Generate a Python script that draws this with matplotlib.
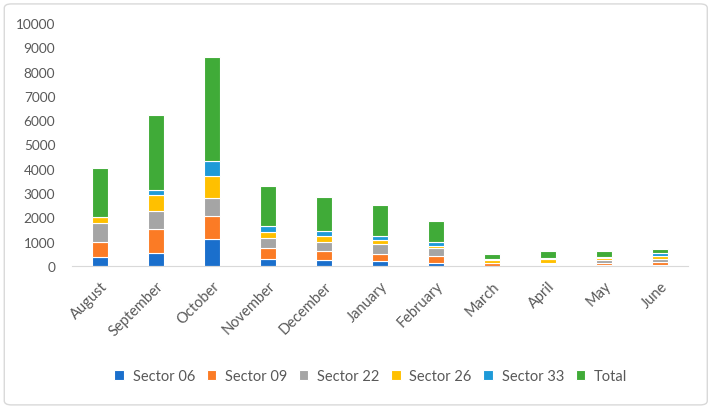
import matplotlib.pyplot as plt
import numpy as np
from matplotlib.patches import FancyBboxPatch

months = ["August", "September", "October", "November", "December", "January",
          "February", "March", "April", "May", "June"]
sector_06 = [350, 520, 1110, 290, 250, 195, 135, 10, 20, 40, 30]
sector_09 = [620, 1000, 960, 440, 370, 310, 265, 90, 40, 60, 120]
sector_22 = [790, 760, 740, 410, 355, 385, 330, 30, 50, 130, 120]
sector_26 = [270, 620, 910, 270, 275, 190, 105, 120, 180, 110, 130]
sector_33 = [0, 230, 610, 220, 200, 170, 140, 30, 30, 40, 150]
total = [1990, 3100, 4290, 1660, 1380, 1270, 865, 210, 280, 250, 150]

series = [
    ("Sector 06", sector_06, "#1a6fcc"),
    ("Sector 09", sector_09, "#fb7b25"),
    ("Sector 22", sector_22, "#a5a5a5"),
    ("Sector 26", sector_26, "#ffc000"),
    ("Sector 33", sector_33, "#1e9ad8"),
    ("Total", total, "#40ab38"),
]

plt.rcParams['font.family'] = ['Lato', 'DejaVu Sans']
txt = "#595959"

fig = plt.figure(figsize=(7.13, 4.10), dpi=100)
ax = fig.add_axes([0.101, 0.349, 0.864, 0.5925])

# stacked bars, Total on top
x = np.arange(len(months))
bottom = np.zeros(len(months))
for name, vals, col in series:
    ax.bar(x, vals, width=0.27, bottom=bottom, color=col, edgecolor="white",
           linewidth=0.8, label=name)
    bottom += np.array(vals)

ax.set_xlim(-0.5, len(months) - 0.5)
ax.set_ylim(0, 10000)
ax.set_yticks(np.arange(0, 10001, 1000))
ax.set_xticks(x)
ax.set_xticklabels(months, rotation=45, ha="right", rotation_mode="anchor")
ax.tick_params(axis="both", length=0, colors=txt)
ax.tick_params(axis="y", pad=12, labelsize=9.8)
ax.tick_params(axis="x", pad=9, labelsize=10.5)
for s in ["top", "right", "left"]:
    ax.spines[s].set_visible(False)
ax.spines["bottom"].set_color("#d9d9d9")

leg = fig.legend(loc="center", bbox_to_anchor=(0.52, 0.08), ncol=6, frameon=False,
                 fontsize=10.5, handlelength=0.65, handleheight=0.65,
                 handletextpad=0.6, columnspacing=0.8)
for t in leg.get_texts():
    t.set_color(txt)

# chart frame
fig.patches.append(FancyBboxPatch((0.006, 0.01), 0.986, 0.978,
                                  boxstyle="round,pad=0,rounding_size=0.01",
                                  transform=fig.transFigure, fill=False,
                                  edgecolor="#d9d9d9", linewidth=1))

fig.savefig("out.png", dpi=100)
